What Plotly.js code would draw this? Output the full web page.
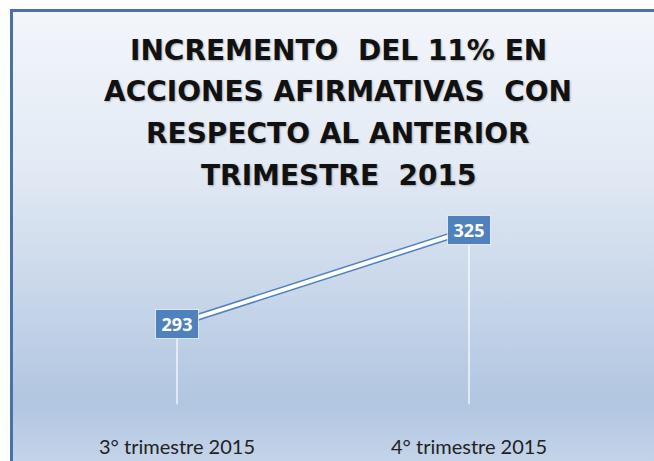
<!DOCTYPE html>
<html>
<head>
<meta charset="utf-8">
<script src="https://cdn.plot.ly/plotly-3.0.1.min.js"></script>
<style>
  html, body { margin: 0; padding: 0; background: #ffffff; }
  #plot { width: 654px; height: 461px; }
</style>
</head>
<body>
<div id="plot"></div>
<script>
// Chart data
let categories = ["3° trimestre 2015", "4° trimestre 2015"];
let values = [293, 325];
let valueLabels = ["293", "325"];
let titleLines = ["INCREMENTO\u00a0 DEL 11% EN", "ACCIONES AFIRMATIVAS\u00a0 CON", "RESPECTO AL ANTERIOR", "TRIMESTRE\u00a0 2015"];

let blue = "rgb(79,129,189)";
let yMin = 263.7, yMax = 335.2;

// Background gradient panel with blue frame (left and top edges)
let bgSvg = '<svg xmlns="http://www.w3.org/2000/svg" width="644" height="452" viewBox="0 0 644 452" preserveAspectRatio="none">' +
  '<defs><linearGradient id="g" x1="0" y1="0" x2="0" y2="1">' +
  '<stop offset="0" stop-color="#f3f6fb"/>' +
  '<stop offset="0.35" stop-color="#e2eaf4"/>' +
  '<stop offset="0.65" stop-color="#c6d5e9"/>' +
  '<stop offset="0.87" stop-color="#b1c6e0"/>' +
  '<stop offset="1" stop-color="#c4d4e9"/>' +
  '</linearGradient></defs>' +
  '<rect x="0" y="0" width="644" height="452" fill="url(#g)"/>' +
  '<rect x="0" y="0" width="3" height="452" fill="#4a72a8"/>' +
  '<rect x="0" y="0" width="644" height="3" fill="#4a72a8"/>' +
  '</svg>';

// Line: blue underlay with white on top
let traces = [
  {
    x: categories,
    y: values,
    mode: 'lines',
    line: { color: blue, width: 7 },
    hoverinfo: 'skip'
  },
  {
    x: categories,
    y: values,
    mode: 'lines',
    line: { color: '#ffffff', width: 4 },
    hoverinfo: 'skip'
  }
];

// Drop lines from each point to the bottom
let dropLines = categories.map((c, i) => ({
  type: 'line',
  xref: 'x', yref: 'y',
  x0: c, x1: c,
  y0: values[i], y1: yMin + 2,
  line: { color: 'rgba(255,255,255,0.6)', width: 2 },
  layer: 'below'
}));

// Value labels in blue boxes
let valueAnn = categories.map((c, i) => ({
  x: c, y: values[i],
  xref: 'x', yref: 'y',
  text: '<b>' + valueLabels[i] + '</b>',
  showarrow: false,
  bgcolor: blue,
  bordercolor: 'rgba(255,255,255,0.7)',
  borderwidth: 1,
  borderpad: 1,
  width: 40, height: 26,
  font: { family: 'Open Sans, sans-serif', size: 18, color: '#ffffff' }
}));

// Title lines
let titleAnn = titleLines.map((t, i) => ({
  xref: 'paper', yref: 'paper',
  x: 0.526,
  y: (410 - (50 + 41.7 * i)) / 210,
  xanchor: 'center', yanchor: 'middle',
  text: '<b>' + t + '</b>',
  showarrow: false,
  font: { family: 'DejaVu Sans, sans-serif', size: 28, color: '#111111', shadow: '1px 1px 2px rgba(0,0,0,0.25)' }
}));

let layout = {
  width: 654,
  height: 461,
  margin: { l: 31, r: 39, t: 200, b: 51 },
  paper_bgcolor: '#ffffff',
  plot_bgcolor: 'rgba(0,0,0,0)',
  showlegend: false,
  hovermode: false,
  xaxis: {
    type: 'category',
    range: [-0.5, 1.5],
    showgrid: false,
    zeroline: false,
    showline: false,
    ticks: '',
    ticklabelstandoff: 23,
    tickfont: { family: 'Lato, sans-serif', size: 20, color: '#222222' }
  },
  yaxis: {
    range: [yMin, yMax],
    visible: false
  },
  shapes: dropLines,
  annotations: titleAnn.concat(valueAnn),
  images: [{
    source: 'data:image/svg+xml;charset=utf-8,' + encodeURIComponent(bgSvg),
    xref: 'paper', yref: 'paper',
    x: (10 - 31) / 584, y: (410 - 9) / 210,
    sizex: 644 / 584, sizey: 452 / 210,
    xanchor: 'left', yanchor: 'top',
    sizing: 'stretch',
    layer: 'below'
  }]
};

Plotly.newPlot('plot', traces, layout, { displayModeBar: false, staticPlot: true });
</script>
</body>
</html>
